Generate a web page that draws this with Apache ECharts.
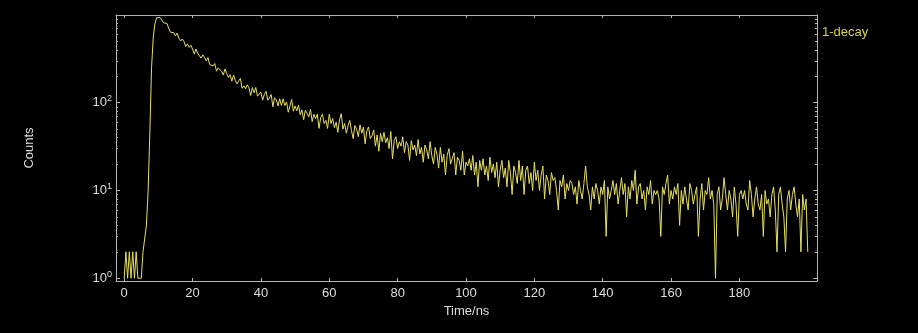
<!DOCTYPE html>
<html>
<head>
<meta charset="utf-8">
<script src="https://cdn.jsdelivr.net/npm/echarts@6/dist/echarts.min.js"></script>
<style>
html,body{margin:0;padding:0;background:#000;}
#chart{width:918px;height:333px;}
</style>
</head>
<body>
<div id="chart"></div>
<script>
// ---- data ----
const seriesName = '1-decay';
const binWidth = 0.5; // ns per channel, channel 0 at t = 0
const counts = [
  1,2,1,2,1,2,1,2,1,1,
  1,2,2,4,10,45,250,560,800,930,
  975,940,
  924,815,808,801,709,638,665,628,578,621,
  545,505,533,499,437,470,427,452,408,358,
  409,366,370,322,352,328,300,328,273,287,
  262,280,229,250,252,228,207,243,215,194,
  208,176,207,179,164,178,189,146,156,144,
  160,148,121,149,130,149,119,125,132,107,
  124,135,107,113,124,90,114,108,92,111,
  93,111,93,102,78,92,109,80,92,81,
  94,73,83,64,82,76,69,84,61,74,
  66,74,51,68,74,58,63,51,74,58,
  66,52,60,46,64,75,50,58,45,55,
  63,48,39,55,50,41,56,45,53,34,
  48,53,39,42,49,32,43,28,45,36,
  46,35,40,30,47,23,37,41,30,36,
  32,41,27,36,33,22,37,29,33,25,
  38,26,31,21,33,29,23,36,25,20,
  31,26,18,31,21,26,15,25,30,20,
  21,27,15,24,22,17,28,15,21,19,
  23,17,25,15,21,11,22,17,23,15,
  19,13,24,16,20,14,21,11,17,22,
  14,18,11,22,16,9,19,16,12,22,
  13,19,9,17,19,12,16,10,21,13,
  17,10,15,19,8,15,13,9,16,13,
  14,10,6,13,11,15,8,12,10,13,
  12,9,11,7,13,10,8,12,19,11,
  9,6,11,8,12,10,7,11,9,13,
  3,11,8,10,13,9,12,7,10,14,
  9,12,5,11,8,13,10,17,7,11,
  12,8,10,6,11,9,13,7,10,9,
  10,8,3,11,9,12,15,7,10,8,
  11,9,12,4,10,7,11,8,6,12,
  10,7,9,11,3,8,12,6,10,9,
  14,8,10,7,1,9,11,6,8,14,
  9,6,10,8,5,11,7,3,9,10,
  8,10,7,6,13,9,5,8,11,7,
  6,9,3,10,7,8,5,9,11,6,
  2,9,11,7,5,2,8,10,6,9,
  11,7,5,8,2,9,6,8,2
];
const xTicks = [0,20,40,60,80,100,120,140,160,180];
const yMajorTicks = [1,10,100,1000];
const yLabelTicks = [1,10,100];
const yMinorTicks = [2,3,4,5,6,7,8,9,20,30,40,50,60,70,80,90,200,300,400,500,600,700,800,900];
const xRange = [-2.4, 202.7];
const yRange = [0.93, 1000];

// ---- chart ----
const points = counts.map((c, i) => [i * binWidth, c]);
const axisColor = '#b4b4b4';
const textColor = '#dedede';
const lineColor = '#e6e062';

function xAxisDef(pos, showLabel) {
  return {
    type: 'value', position: pos, min: xRange[0], max: xRange[1],
    axisLine: {show: true, onZero: false, lineStyle: {color: axisColor, width: 1}},
    axisTick: {show: true, inside: true, length: 3, customValues: xTicks, lineStyle: {color: axisColor}},
    axisLabel: {show: showLabel, customValues: xTicks, color: textColor, fontSize: 13,
      fontFamily: 'Liberation Sans', margin: 6},
    splitLine: {show: false},
    name: showLabel ? 'Time/ns' : '',
    nameLocation: 'middle', nameGap: 24,
    nameTextStyle: {color: textColor, fontSize: 13, fontFamily: 'Liberation Sans'}
  };
}
function yAxisDef(pos, minor, line, label) {
  return {
    type: 'log', logBase: 10, position: pos, min: yRange[0], max: yRange[1],
    axisLine: {show: line, onZero: false, lineStyle: {color: axisColor, width: 1}},
    axisTick: {show: true, inside: true, length: minor ? 2 : 4,
      customValues: minor ? yMinorTicks : yMajorTicks, lineStyle: {color: axisColor}},
    axisLabel: label ? {
      show: true, customValues: yLabelTicks, margin: 4,
      formatter: v => '{b|10}{s|' + Math.round(Math.log10(v)) + '}',
      rich: {
        b: {color: textColor, fontSize: 13, fontFamily: 'Liberation Sans'},
        s: {color: textColor, fontSize: 9, fontFamily: 'Liberation Sans', padding: [0, 0, 8, 0]}
      }
    } : {show: false},
    splitLine: {show: false},
    name: label ? 'Counts' : '',
    nameLocation: 'middle', nameGap: 80, nameRotate: 90,
    nameTextStyle: {color: textColor, fontSize: 13, fontFamily: 'Liberation Sans'}
  };
}

const chart = echarts.init(document.getElementById('chart'), null, {renderer: 'canvas'});
chart.setOption({
  backgroundColor: '#000000',
  animation: false,
  grid: {left: 116, top: 15, right: 101, bottom: 52, show: false},
  legend: {
    data: [seriesName], icon: 'none', left: 812, top: 20, itemWidth: 0, itemGap: 0,
    textStyle: {color: '#d8d240', fontSize: 13, fontFamily: 'Liberation Sans'}
  },
  xAxis: [xAxisDef('bottom', true), xAxisDef('top', false)],
  yAxis: [
    yAxisDef('left', false, true, true),
    yAxisDef('left', true, false, false),
    yAxisDef('right', false, true, false),
    yAxisDef('right', true, false, false)
  ],
  series: [{
    name: seriesName, type: 'line', data: points, xAxisIndex: 0, yAxisIndex: 0,
    showSymbol: false, symbol: 'none',
    lineStyle: {color: lineColor, width: 1},
    itemStyle: {color: lineColor}
  }]
});
</script>
</body>
</html>
